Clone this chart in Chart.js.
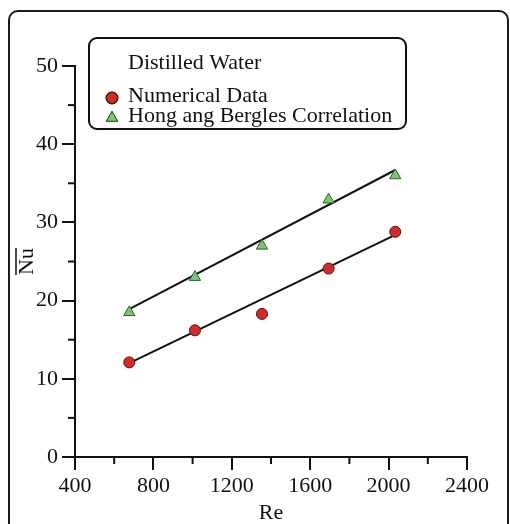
<!DOCTYPE html>
<html>
<head>
<meta charset="utf-8">
<script src="https://cdn.jsdelivr.net/npm/chart.js@4/dist/chart.umd.min.js"></script>
<style>
  html, body { margin: 0; padding: 0; background: #ffffff; }
  canvas { display: block; }
</style>
</head>
<body>
<canvas id="c" width="510" height="524"></canvas>
<script>
// ---- data ----
const reValues = [677, 1012, 1354, 1694, 2034];
const numericalNu = [12.1, 16.2, 18.3, 24.1, 28.8];
const hongBerglesNu = [18.5, 23.0, 27.0, 32.9, 36.0];
const fitRe = [677, 2034];
const numericalFitNu = [12.0, 28.4];
const hongBerglesFitNu = [18.9, 36.7];
const xMinorTicks = [600, 1000, 1400, 1800, 2200];
const yMinorTicks = [5, 15, 25, 35, 45];
const legendTitle = 'Distilled Water';
const seriesNames = ['Numerical Data', 'Hong ang Bergles Correlation'];
const xTitle = 'Re';
const yTitle = 'Nu';

const FONT = 'Liberation Serif';
const toPts = (xs, ys) => xs.map((x, i) => ({ x: x, y: ys[i] }));

const decorPlugin = {
  id: 'decor',
  beforeDraw(chart) {
    const ctx = chart.ctx;
    ctx.save();
    ctx.fillStyle = '#ffffff';
    ctx.fillRect(0, 0, chart.width, chart.height);
    ctx.strokeStyle = '#1a1a1a';
    ctx.lineWidth = 2;
    ctx.beginPath();
    ctx.roundRect(9, 11, 499, 540, 9);
    ctx.stroke();
    ctx.restore();
  },
  afterDraw(chart) {
    const ctx = chart.ctx;
    const xs = chart.scales.x, ys = chart.scales.y;
    ctx.save();
    // minor ticks
    ctx.strokeStyle = '#111';
    ctx.lineWidth = 2;
    yMinorTicks.forEach(v => {
      const p = ys.getPixelForValue(v);
      ctx.beginPath(); ctx.moveTo(ys.right - 7, p); ctx.lineTo(ys.right, p); ctx.stroke();
    });
    xMinorTicks.forEach(v => {
      const p = xs.getPixelForValue(v);
      ctx.beginPath(); ctx.moveTo(p, xs.top); ctx.lineTo(p, xs.top + 7); ctx.stroke();
    });
    // overline for the rotated y title (mean value bar)
    ctx.font = '22px "' + FONT + '"';
    const w = ctx.measureText(yTitle).width;
    const cy = (ys.top + ys.bottom) / 2;
    ctx.lineWidth = 1.5;
    ctx.beginPath();
    ctx.moveTo(16, cy - w / 2);
    ctx.lineTo(16, cy + w / 2);
    ctx.stroke();
    // legend box
    ctx.lineWidth = 2;
    ctx.strokeStyle = '#111';
    ctx.beginPath();
    ctx.roundRect(89, 38, 317, 91, 8);
    ctx.stroke();
    ctx.fillStyle = '#111';
    ctx.textBaseline = 'middle';
    ctx.textAlign = 'left';
    ctx.fillText(legendTitle, 128, 63);
    const rows = [96, 116];
    [0, 1].forEach(i => {
      const ds = chart.data.datasets[i];
      ctx.fillStyle = '#111';
      ctx.fillText(ds.label, 128, rows[i]);
      Chart.helpers.drawPoint(ctx, {
        pointStyle: ds.pointStyle,
        radius: i === 0 ? 5.5 : 6.5,
        rotation: 0,
        borderWidth: ds.pointBorderWidth
      }, 112, rows[i] + 2);
      ctx.fillStyle = ds.pointBackgroundColor;
      ctx.strokeStyle = ds.pointBorderColor;
      ctx.lineWidth = ds.pointBorderWidth;
      ctx.fill();
      ctx.stroke();
    });
    ctx.restore();
  }
};

new Chart(document.getElementById('c'), {
  type: 'scatter',
  data: {
    datasets: [
      {
        label: seriesNames[0],
        data: toPts(reValues, numericalNu),
        pointStyle: 'circle',
        pointRadius: 5.5,
        pointBackgroundColor: '#d42a2a',
        pointBorderColor: '#5a1010',
        pointBorderWidth: 1,
        showLine: false,
        order: 0
      },
      {
        label: seriesNames[1],
        data: toPts(reValues, hongBerglesNu),
        pointStyle: 'triangle',
        pointRadius: 6.5,
        pointBackgroundColor: '#7cc576',
        pointBorderColor: '#2f5f2c',
        pointBorderWidth: 1,
        showLine: false,
        order: 0
      },
      {
        label: 'fit1',
        data: toPts(fitRe, numericalFitNu),
        showLine: true,
        borderColor: '#111',
        borderWidth: 2,
        pointRadius: 0,
        order: 1
      },
      {
        label: 'fit2',
        data: toPts(fitRe, hongBerglesFitNu),
        showLine: true,
        borderColor: '#111',
        borderWidth: 2,
        pointRadius: 0,
        order: 1
      }
    ]
  },
  options: {
    responsive: false,
    animation: false,
    devicePixelRatio: 1,
    layout: { padding: { left: 0, top: 66, right: 43, bottom: 0 } },
    plugins: {
      legend: { display: false },
      tooltip: { enabled: false }
    },
    scales: {
      x: {
        type: 'linear',
        min: 400, max: 2400,
        afterFit(s) { s.height = 67; },
        ticks: {
          stepSize: 400,
          color: '#111',
          padding: 3,
          maxRotation: 0,
          font: { family: FONT, size: 22 },
          callback: v => String(v)
        },
        grid: { drawOnChartArea: false, drawTicks: true, tickLength: 13, color: '#111', lineWidth: 2 },
        border: { display: true, color: '#111', width: 2 },
        title: {
          display: true, text: xTitle, color: '#111',
          font: { family: FONT, size: 22, lineHeight: 1 },
          padding: { top: 0, bottom: 0 }
        }
      },
      y: {
        type: 'linear',
        min: 0, max: 50,
        afterFit(s) { s.width = 75; },
        ticks: {
          stepSize: 10,
          color: '#111',
          padding: 4,
          font: { family: FONT, size: 22 },
          callback: v => String(v)
        },
        grid: { drawOnChartArea: false, drawTicks: true, tickLength: 13, color: '#111', lineWidth: 2 },
        border: { display: true, color: '#111', width: 2 },
        title: {
          display: true, text: yTitle, color: '#111',
          font: { family: FONT, size: 22, lineHeight: 1.2 },
          padding: { top: 14, bottom: 0 }
        }
      }
    }
  },
  plugins: [decorPlugin]
});
</script>
</body>
</html>
